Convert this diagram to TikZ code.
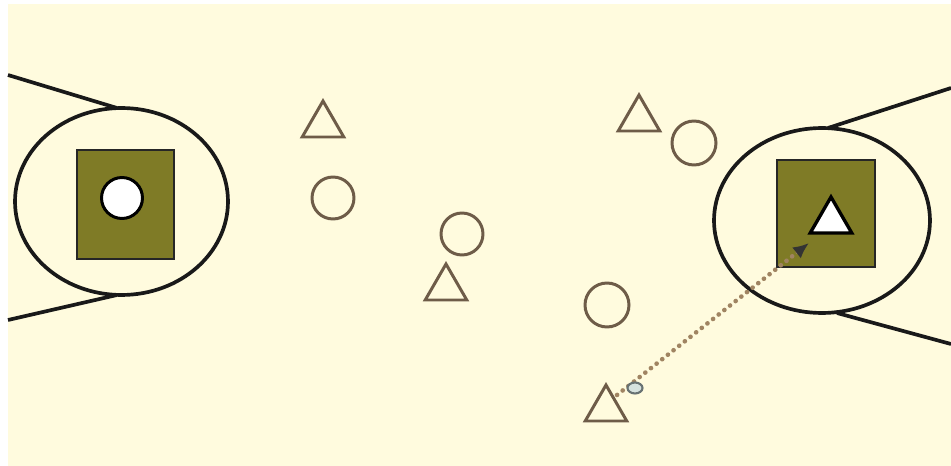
\documentclass[tikz,border=0pt]{standalone}
\usetikzlibrary{shapes.geometric,arrows.meta}
\definecolor{cream}{HTML}{FFFBDE}
\definecolor{olivefill}{HTML}{7F7B26}
\definecolor{shapeline}{HTML}{6E5C48}
\definecolor{dotline}{HTML}{A08462}
\definecolor{ballfill}{HTML}{D6E2DE}
\definecolor{ballline}{HTML}{687272}
\tikzset{
  court/.style={draw=black!90, line width=2.1pt},
  keyellipse/.style={ellipse, court, inner sep=0pt},
  keybox/.style={rectangle, draw=black!85, line width=1.4pt, fill=olivefill, inner sep=0pt},
  tri/.style={regular polygon, regular polygon sides=3, draw=shapeline, line width=1.7pt, inner sep=0pt, minimum size=0.96cm},
  disc/.style={circle, draw=shapeline, line width=1.7pt, inner sep=0pt, minimum size=0.84cm},
  ball/.style={ellipse, draw=ballline, fill=ballfill, line width=1.2pt, inner sep=0pt, minimum width=0.3cm, minimum height=0.22cm},
  pass/.style={dotline, line width=2.6pt, line cap=round, dash pattern=on 0.1pt off 4pt, -{Latex[length=9pt,width=8pt,color=black!80]}}
}
\begin{document}
\begin{tikzpicture}[x=0.02cm, y=-0.02cm]
\useasboundingbox (0,0) rectangle (951,466);
\fill[white] (0,0) rectangle (951,466);
\fill[cream] (8,4) rectangle (951,466);

% left key
\node[keyellipse, minimum width=4.26cm, minimum height=3.74cm] (lk) at (121.5,201.5) {};
\coordinate (lt0) at (8,75);
\coordinate (lt1) at (117,108);
\coordinate (lb0) at (8,320);
\coordinate (lb1) at (117,295);
\draw[court] (lt0) -- (lt1);
\draw[court] (lb0) -- (lb1);
\node[keybox, minimum width=1.94cm, minimum height=2.18cm] (lbox) at (125.5,204.5) {};
\node[circle, draw=black, fill=white, line width=1.7pt, inner sep=0pt, minimum size=0.82cm] (lhole) at (122,198) {};

% right key
\node[keyellipse, minimum width=4.32cm, minimum height=3.7cm] (rk) at (822,220.5) {};
\coordinate (rt0) at (951,88);
\coordinate (rt1) at (828,128);
\coordinate (rb0) at (951,344);
\coordinate (rb1) at (837,313);
\draw[court] (rt1) -- (rt0);
\draw[court] (rb1) -- (rb0);
\node[keybox, minimum width=1.96cm, minimum height=2.14cm] (rbox) at (826,213.5) {};
\node[regular polygon, regular polygon sides=3, draw=black, fill=white, line width=1.9pt, inner sep=0pt, minimum size=0.96cm] (rtri) at (831,221) {};

% players
\node[tri] (t1) at (323,125) {};
\node[tri] (t2) at (446,288) {};
\node[tri] (t3) at (639,119) {};
\node[tri] (t4) at (606,409) {};
\node[disc] (c1) at (333,198) {};
\node[disc] (c2) at (462,234) {};
\node[disc, minimum size=0.88cm] (c3) at (694,143) {};
\node[disc, minimum size=0.88cm] (c4) at (607,305) {};

% pass
\coordinate (ps) at (617,395);
\coordinate (pe) at (809,243);
\draw[pass] (ps) -- (pe);
\node[ball] (b) at (635,388) {};
\end{tikzpicture}
\end{document}
